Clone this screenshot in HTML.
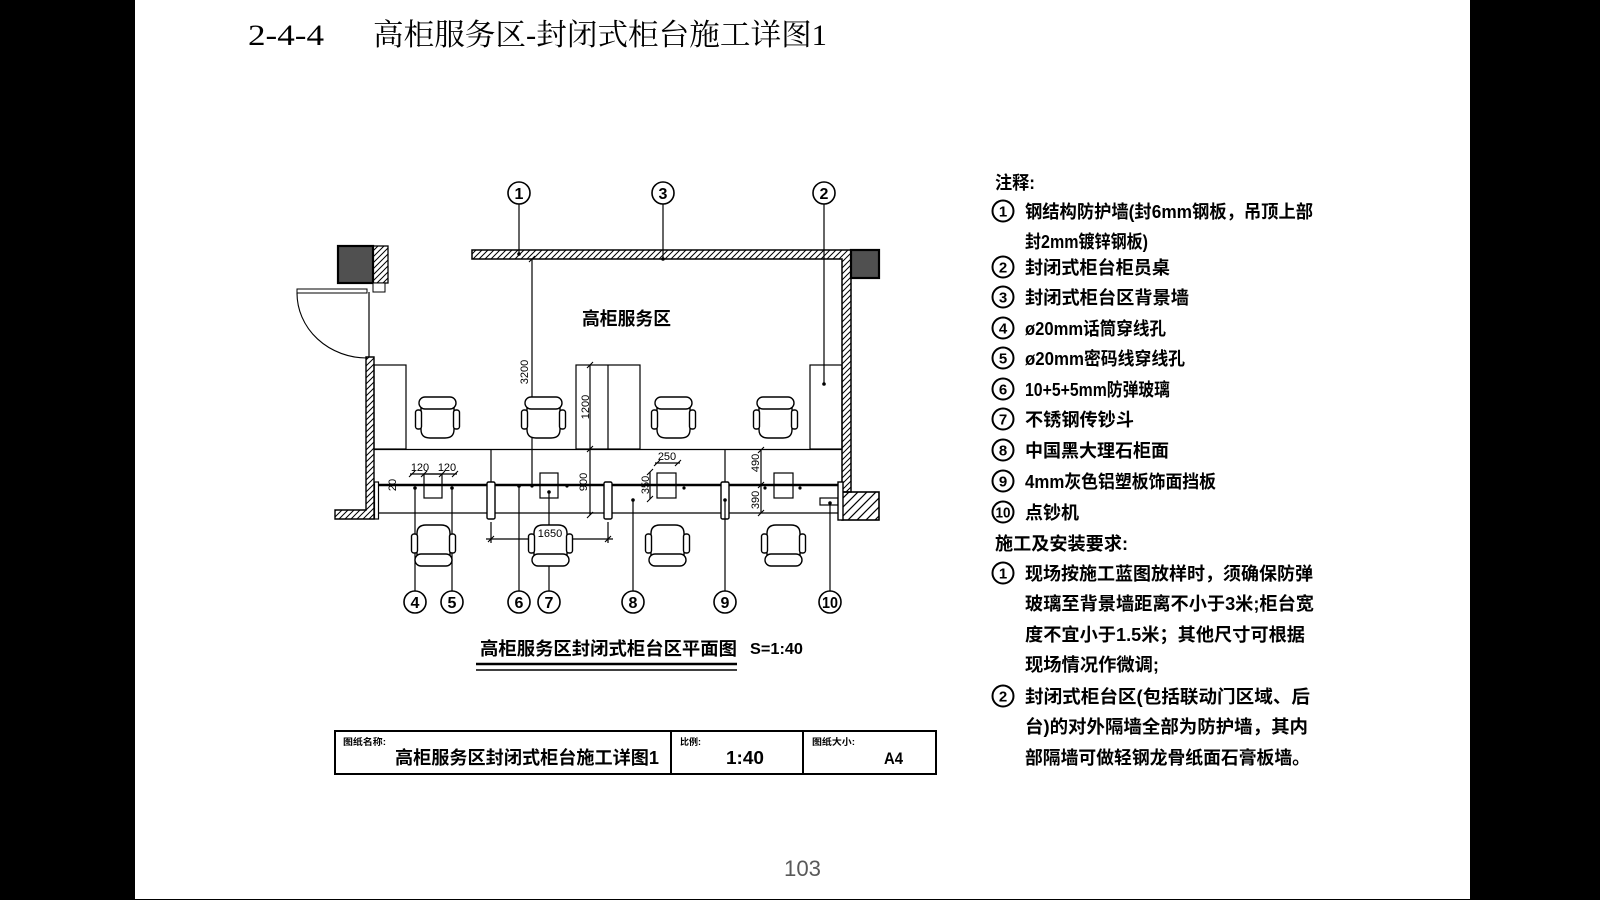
<!DOCTYPE html>
<html><head><meta charset="utf-8"><style>html,body{margin:0;padding:0;background:#000;}svg{display:block}</style></head>
<body>
<svg xmlns="http://www.w3.org/2000/svg" width="1600" height="900" viewBox="0 0 1600 900">
<defs>
<pattern id="h" width="6" height="6" patternUnits="userSpaceOnUse"><path d="M0,6 L6,0 M-1,1 L1,-1 M5,7 L7,5" stroke="#000" stroke-width="1"/></pattern>
<pattern id="hb" width="9" height="9" patternUnits="userSpaceOnUse"><path d="M0,9 L9,0 M-1,1 L1,-1 M8,10 L10,8" stroke="#000" stroke-width="1.2"/></pattern>
<g id="ch" fill="#fff" stroke="#000" stroke-width="1.4">
<path d="M-16,-12 L-16,12 Q-16,20.5 -7,20.5 L8,20.5 Q17,20.5 17,12 L17,-12 Z"/>
<rect x="-18" y="-20.5" width="37" height="12" rx="6"/>
<rect x="-21.5" y="-7.5" width="6" height="19" rx="2.5"/>
<rect x="16.5" y="-7.5" width="6" height="19" rx="2.5"/>
</g>
</defs>
<rect width="1600" height="900" fill="#000"/>
<rect x="135" y="0" width="1335" height="899" fill="#fff"/>

<!-- Title -->
<g font-family="'Liberation Serif','Noto Serif CJK SC',serif" font-size="30" fill="#000">
<text x="248" y="45" textLength="76" lengthAdjust="spacingAndGlyphs">2-4-4</text>
<text x="373" y="45" textLength="454" lengthAdjust="spacingAndGlyphs">高柜服务区-封闭式柜台施工详图1</text>
</g>

<!-- Plan drawing -->
<g stroke="#000" fill="none" stroke-width="1.2">
<rect x="338" y="246" width="35" height="37" fill="#505050" stroke-width="2.2"/>
<rect x="373" y="246" width="15" height="37" fill="url(#h)" stroke-width="1.3"/>
<rect x="373" y="283" width="12" height="9" fill="#fff" stroke-width="1"/>
<rect x="297" y="289" width="70" height="4" fill="#fff" stroke-width="1"/>
<path d="M297,293 A70,65 0 0,0 367,358" stroke-width="1.1"/>
<line x1="369" y1="292" x2="369" y2="357"/>
<polygon points="366,357 374,357 374,519 335,519 335,510 366,510" fill="url(#h)" stroke-width="1.4"/>

<polygon points="472,250 851,250 851,492 842,492 842,259 472,259" fill="url(#h)" stroke-width="1.5"/>
<rect x="842" y="492" width="37" height="28" fill="url(#hb)" stroke-width="1.6"/>
<rect x="851" y="250" width="28" height="28" fill="#505050" stroke-width="2.2"/>

<rect x="374" y="365" width="32" height="84"/>
<rect x="576" y="365" width="64" height="84"/>
<line x1="608" y1="365" x2="608" y2="449"/>
<rect x="810" y="365" width="32" height="84"/>
<line x1="374" y1="449.5" x2="842" y2="449.5"/>

<line x1="491" y1="450" x2="491" y2="482"/>
<line x1="725" y1="450" x2="725" y2="482"/>

<line x1="378" y1="513" x2="838" y2="513"/>
<rect x="424" y="474" width="18" height="24" fill="#fff"/>
<rect x="540" y="473" width="18" height="25" fill="#fff"/>
<rect x="657" y="473" width="19" height="25" fill="#fff"/>
<rect x="774" y="473" width="19" height="25" fill="#fff"/>
<rect x="820" y="498" width="18" height="7" fill="#fff"/>
<line x1="378" y1="485" x2="838" y2="485" stroke-width="2.6"/>
<rect x="374.5" y="482" width="4" height="37" fill="#fff"/>
<rect x="487" y="482" width="8" height="37" rx="1.5" fill="#fff" stroke-width="1.4"/>
<rect x="604" y="482" width="8" height="37" rx="1.5" fill="#fff" stroke-width="1.4"/>
<rect x="721" y="482" width="8" height="37" rx="1.5" fill="#fff" stroke-width="1.4"/>
<rect x="838" y="482" width="5" height="38" fill="#fff" stroke-width="1.4"/>

<line x1="532" y1="259" x2="532" y2="486"/>
<line x1="590" y1="365" x2="590" y2="515"/>
<line x1="761" y1="450" x2="761" y2="513"/>
<line x1="650" y1="472" x2="650" y2="499"/>
<line x1="655" y1="463" x2="680" y2="463"/>
<line x1="410" y1="474" x2="457" y2="474"/>
<line x1="486" y1="539" x2="613" y2="539"/>
<line x1="491" y1="522" x2="491" y2="543"/>
<line x1="608" y1="522" x2="608" y2="543"/>
<line x1="380" y1="485" x2="400" y2="485" stroke-width="0.8"/>
<g stroke-width="1.1">
<path d="M529,262 l6,-6 M587,368 l6,-6 M587,452 l6,-6 M587,518 l6,-6 M758,453 l6,-6 M758,488 l6,-6 M758,516 l6,-6 M647,475 l6,-6 M647,502 l6,-6 M654,466 l6,-6 M675,466 l6,-6 M409,477 l6,-6 M421,477 l6,-6 M439,477 l6,-6 M452,477 l6,-6 M488,542 l6,-6 M605,542 l6,-6"/>
</g>

<line x1="519" y1="204" x2="519" y2="254"/>
<line x1="663" y1="204" x2="663" y2="259"/>
<line x1="824" y1="204" x2="824" y2="384"/>
<line x1="415" y1="488" x2="415" y2="591"/>
<line x1="452" y1="488" x2="452" y2="591"/>
<line x1="519" y1="486" x2="519" y2="591"/>
<line x1="549" y1="492" x2="549" y2="591"/>
<line x1="633" y1="500" x2="633" y2="591"/>
<line x1="725" y1="500" x2="725" y2="591"/>
<line x1="830" y1="503" x2="830" y2="591"/>
</g>

<g fill="#000">
<circle cx="519" cy="254" r="1.8"/><circle cx="663" cy="259" r="1.8"/><circle cx="824" cy="384" r="1.8"/>
<circle cx="415" cy="488" r="1.8"/><circle cx="452" cy="488" r="1.8"/><circle cx="519" cy="486" r="1.8"/>
<circle cx="532" cy="486" r="1.6"/><circle cx="567" cy="486" r="1.6"/><circle cx="549" cy="492" r="1.8"/>
<circle cx="684" cy="488" r="1.6"/><circle cx="765" cy="488" r="1.6"/><circle cx="800" cy="488" r="1.6"/>
<circle cx="633" cy="500" r="1.8"/><circle cx="725" cy="500" r="1.8"/><circle cx="830" cy="503" r="1.8"/>
</g>

<use href="#ch" transform="translate(437,417.5)"/>
<use href="#ch" transform="translate(543,417.5)"/>
<use href="#ch" transform="translate(673,417.5)"/>
<use href="#ch" transform="translate(775,417.5)"/>
<use href="#ch" transform="translate(433,545.5) scale(1,-1)"/>
<use href="#ch" transform="translate(550,545.5) scale(1,-1)"/>
<use href="#ch" transform="translate(667,545.5) scale(1,-1)"/>
<use href="#ch" transform="translate(783,545.5) scale(1,-1)"/>

<g font-family="'Liberation Sans',sans-serif" font-size="11" fill="#000">
<text transform="translate(528,372) rotate(-90)" text-anchor="middle">3200</text>
<text transform="translate(589,407) rotate(-90)" text-anchor="middle">1200</text>
<text transform="translate(587,482) rotate(-90)" text-anchor="middle">900</text>
<text transform="translate(759,463) rotate(-90)" text-anchor="middle">490</text>
<text transform="translate(759,500) rotate(-90)" text-anchor="middle">390</text>
<text transform="translate(649,485) rotate(-90)" text-anchor="middle">350</text>
<text transform="translate(396,485) rotate(-90)" text-anchor="middle">20</text>
<text x="667" y="460" text-anchor="middle">250</text>
<text x="420" y="471" text-anchor="middle">120</text>
<text x="447" y="471" text-anchor="middle">120</text>
<text x="550" y="537" text-anchor="middle">1650</text>
</g>

<g fill="none" stroke="#000" stroke-width="1.6">
<circle cx="519" cy="193" r="11"/><circle cx="663" cy="193" r="11"/><circle cx="824" cy="193" r="11"/>
<circle cx="415" cy="602" r="11"/><circle cx="452" cy="602" r="11"/><circle cx="519" cy="602" r="11"/>
<circle cx="549" cy="602" r="11"/><circle cx="633" cy="602" r="11"/><circle cx="725" cy="602" r="11"/>
<circle cx="830" cy="602" r="11"/>
</g>
<g font-family="'Liberation Sans',sans-serif" font-size="16" font-weight="bold" fill="#000" text-anchor="middle">
<text x="519" y="199">1</text><text x="663" y="199">3</text><text x="824" y="199">2</text>
<text x="415" y="608">4</text><text x="452" y="608">5</text><text x="519" y="608">6</text>
<text x="549" y="608">7</text><text x="633" y="608">8</text><text x="725" y="608">9</text>
<text x="830" y="608" textLength="16" lengthAdjust="spacingAndGlyphs">10</text>
</g>

<text x="582" y="325" font-family="'Liberation Sans','Noto Sans CJK SC',sans-serif" font-size="18" font-weight="bold" textLength="89" lengthAdjust="spacingAndGlyphs">高柜服务区</text>

<g font-family="'Liberation Sans','Noto Sans CJK SC',sans-serif" font-weight="bold" fill="#000">
<text x="480" y="655" font-size="18" textLength="257" lengthAdjust="spacingAndGlyphs">高柜服务区封闭式柜台区平面图</text>
<text x="750" y="654" font-size="16" textLength="53" lengthAdjust="spacingAndGlyphs">S=1:40</text>
</g>
<line x1="476" y1="664" x2="737" y2="664" stroke="#000" stroke-width="2.6"/>
<line x1="476" y1="670" x2="737" y2="670" stroke="#000" stroke-width="1.4"/>

<rect x="335" y="731" width="601" height="43" fill="none" stroke="#000" stroke-width="2"/>
<line x1="671" y1="731" x2="671" y2="774" stroke="#000" stroke-width="2"/>
<line x1="803" y1="731" x2="803" y2="774" stroke="#000" stroke-width="2"/>
<g font-family="'Liberation Sans','Noto Sans CJK SC',sans-serif" font-weight="bold" fill="#000">
<text x="343" y="745" font-size="9" textLength="43" lengthAdjust="spacingAndGlyphs">图纸名称:</text>
<text x="395" y="764" font-size="18" textLength="264" lengthAdjust="spacingAndGlyphs">高柜服务区封闭式柜台施工详图1</text>
<text x="680" y="745" font-size="9" textLength="21" lengthAdjust="spacingAndGlyphs">比例:</text>
<text x="726" y="764" font-size="18" textLength="38" lengthAdjust="spacingAndGlyphs">1:40</text>
<text x="812" y="745" font-size="9" textLength="43" lengthAdjust="spacingAndGlyphs">图纸大小:</text>
<text x="884" y="764" font-size="17" textLength="19" lengthAdjust="spacingAndGlyphs">A4</text>
</g>

<g fill="none" stroke="#000" stroke-width="2">
<circle cx="1003" cy="211" r="10.5"/><circle cx="1003" cy="267" r="10.5"/><circle cx="1003" cy="297" r="10.5"/>
<circle cx="1003" cy="328" r="10.5"/><circle cx="1003" cy="358" r="10.5"/><circle cx="1003" cy="389" r="10.5"/>
<circle cx="1003" cy="419" r="10.5"/><circle cx="1003" cy="450" r="10.5"/><circle cx="1003" cy="481" r="10.5"/>
<circle cx="1003" cy="512" r="10.5"/><circle cx="1003" cy="573" r="10.5"/><circle cx="1003" cy="696" r="10.5"/>
</g>
<g font-family="'Liberation Sans',sans-serif" font-size="15" font-weight="bold" fill="#000" text-anchor="middle">
<text x="1003" y="216.5">1</text><text x="1003" y="272.5">2</text><text x="1003" y="302.5">3</text>
<text x="1003" y="333.5">4</text><text x="1003" y="363.5">5</text><text x="1003" y="394.5">6</text>
<text x="1003" y="424.5">7</text><text x="1003" y="455.5">8</text><text x="1003" y="486.5">9</text>
<text x="1003" y="517.5" textLength="15" lengthAdjust="spacingAndGlyphs">10</text>
<text x="1003" y="578.5">1</text><text x="1003" y="701.5">2</text>
</g>
<g font-family="'Liberation Sans','Noto Sans CJK SC',sans-serif" font-size="18" font-weight="bold" fill="#000">
<text x="995" y="189" textLength="40" lengthAdjust="spacingAndGlyphs">注释:</text>
<text x="1025" y="218" textLength="288" lengthAdjust="spacingAndGlyphs">钢结构防护墙(封6mm钢板，吊顶上部</text>
<text x="1025" y="248" textLength="123" lengthAdjust="spacingAndGlyphs">封2mm镀锌钢板)</text>
<text x="1025" y="274" textLength="145" lengthAdjust="spacingAndGlyphs">封闭式柜台柜员桌</text>
<text x="1025" y="304" textLength="164" lengthAdjust="spacingAndGlyphs">封闭式柜台区背景墙</text>
<text x="1025" y="335" textLength="141" lengthAdjust="spacingAndGlyphs">ø20mm话筒穿线孔</text>
<text x="1025" y="365" textLength="160" lengthAdjust="spacingAndGlyphs">ø20mm密码线穿线孔</text>
<text x="1025" y="396" textLength="145" lengthAdjust="spacingAndGlyphs">10+5+5mm防弹玻璃</text>
<text x="1025" y="426" textLength="109" lengthAdjust="spacingAndGlyphs">不锈钢传钞斗</text>
<text x="1025" y="457" textLength="144" lengthAdjust="spacingAndGlyphs">中国黑大理石柜面</text>
<text x="1025" y="488" textLength="191" lengthAdjust="spacingAndGlyphs">4mm灰色铝塑板饰面挡板</text>
<text x="1025" y="519" textLength="54" lengthAdjust="spacingAndGlyphs">点钞机</text>
<text x="995" y="550" textLength="133" lengthAdjust="spacingAndGlyphs">施工及安装要求:</text>
<text x="1025" y="580" textLength="288" lengthAdjust="spacingAndGlyphs">现场按施工蓝图放样时，须确保防弹</text>
<text x="1025" y="610" textLength="289" lengthAdjust="spacingAndGlyphs">玻璃至背景墙距离不小于3米;柜台宽</text>
<text x="1025" y="641" textLength="280" lengthAdjust="spacingAndGlyphs">度不宜小于1.5米；其他尺寸可根据</text>
<text x="1025" y="671" textLength="134" lengthAdjust="spacingAndGlyphs">现场情况作微调;</text>
<text x="1025" y="703" textLength="285" lengthAdjust="spacingAndGlyphs">封闭式柜台区(包括联动门区域、后</text>
<text x="1025" y="733" textLength="283" lengthAdjust="spacingAndGlyphs">台)的对外隔墙全部为防护墙，其内</text>
<text x="1025" y="764" textLength="285" lengthAdjust="spacingAndGlyphs">部隔墙可做轻钢龙骨纸面石膏板墙。</text>
</g>

<text x="784" y="876" font-family="'Liberation Sans',sans-serif" font-size="22" fill="#595959" textLength="37" lengthAdjust="spacingAndGlyphs">103</text>
</svg>
</body></html>
